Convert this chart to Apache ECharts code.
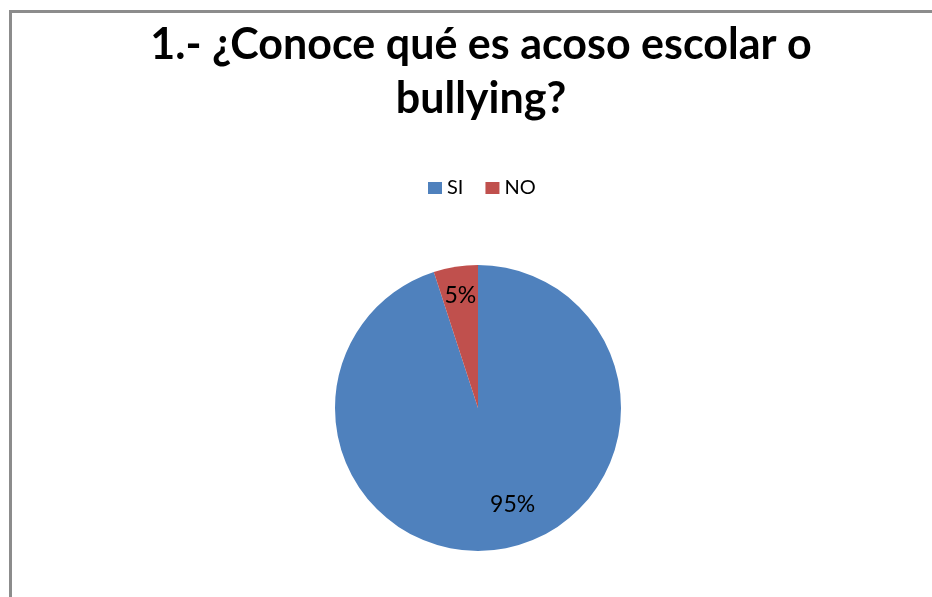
<!DOCTYPE html>
<html>
<head>
<meta charset="utf-8">
<script src="https://cdn.jsdelivr.net/npm/echarts@6/dist/echarts.min.js"></script>
<style>html,body{margin:0;padding:0;background:#fff;}#c{width:932px;height:597px;}</style>
</head>
<body>
<div id="c"></div>
<script>
const titleText = "1.- ¿Conoce qué es acoso escolar o\nbullying?";
const categories = ["SI", "NO"];
const values = [95, 5];
const colors = ["#4F81BD", "#C0504D"];
const labelOffsets = [[23, 23], [-6, -39]];

const chart = echarts.init(document.getElementById('c'));
chart.setOption({
  animation: false,
  backgroundColor: '#fff',
  graphic: [
    { type: 'line', shape: { x1: 10.5, y1: 11.5, x2: 932, y2: 11.5 }, style: { stroke: '#8c8c8c', lineWidth: 3 } },
    { type: 'line', shape: { x1: 10.5, y1: 10, x2: 10.5, y2: 597 }, style: { stroke: '#8c8c8c', lineWidth: 3 } }
  ],
  title: {
    text: titleText,
    left: 476,
    textAlign: 'center',
    top: 13,
    textStyle: { fontFamily: 'Lato', fontWeight: 'bold', fontSize: 43, lineHeight: 54, color: '#000' }
  },
  legend: {
    data: categories,
    top: 178,
    left: 428,
    icon: 'rect',
    itemWidth: 14,
    itemHeight: 12,
    itemGap: 22,
    padding: 0,
    textStyle: { fontFamily: 'Lato', fontSize: 20, color: '#000' }
  },
  series: [{
    type: 'pie',
    center: [478, 408],
    radius: 143,
    startAngle: 90,
    clockwise: true,
    color: colors,
    label: {
      show: true,
      position: 'inside',
      formatter: '{c}%',
      fontFamily: 'Lato',
      fontSize: 23,
      color: '#000'
    },
    labelLine: { show: false },
    itemStyle: { borderWidth: 0 },
    data: categories.map((n, i) => ({ name: n, value: values[i], label: { offset: labelOffsets[i] } }))
  }]
});
</script>
</body>
</html>
